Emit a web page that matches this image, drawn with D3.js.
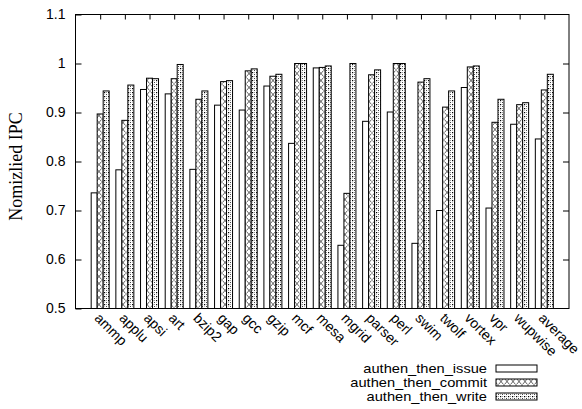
<!DOCTYPE html>
<html>
<head>
<meta charset="utf-8">
<script src="https://cdn.jsdelivr.net/npm/d3@7"></script>
<style>
  html, body { margin: 0; padding: 0; background: #fff; }
  svg { display: block; }
</style>
</head>
<body>
<svg id="chart" width="582" height="409"></svg>
<script>
// Benchmarks on the x axis
const categories = ["ammp", "applu", "apsi", "art", "bzip2", "gap", "gcc", "gzip", "mcf", "mesa",
  "mgrid", "parser", "perl", "swim", "twolf", "vortex", "vpr", "wupwise", "average"];

// Normalized IPC per configuration
const authenThenIssue  = [0.736, 0.783, 0.947, 0.938, 0.784, 0.915, 0.905, 0.954, 0.837, 0.991,
  0.629, 0.882, 0.901, 0.633, 0.700, 0.951, 0.705, 0.876, 0.846];
const authenThenCommit = [0.897, 0.884, 0.970, 0.969, 0.927, 0.963, 0.985, 0.974, 1.000, 0.992,
  0.735, 0.977, 1.000, 0.962, 0.911, 0.993, 0.880, 0.916, 0.946];
const authenThenWrite  = [0.944, 0.956, 0.969, 0.998, 0.944, 0.965, 0.989, 0.978, 1.000, 0.995,
  1.000, 0.987, 1.000, 0.969, 0.944, 0.995, 0.927, 0.920, 0.978];

const seriesNames = ["authen_then_issue", "authen_then_commit", "authen_then_write"];
const yTicks = [0.5, 0.6, 0.7, 0.8, 0.9, 1.0, 1.1];

const SANS = "'Liberation Sans', Arial, Helvetica, sans-serif";
const SERIF = "'Liberation Serif', 'Times New Roman', serif";

const series = [
  { name: seriesNames[0], values: authenThenIssue,  fill: "#fff" },
  { name: seriesNames[1], values: authenThenCommit, fill: "url(#cross)" },
  { name: seriesNames[2], values: authenThenWrite,  fill: "url(#dots)" }
];

const svg = d3.select("#chart");
const L = 75.5, R = 569, T = 14.5, B = 308.5;

// Fill patterns for the bars
const defs = svg.append("defs");
const cross = defs.append("pattern").attr("id", "cross")
  .attr("patternUnits", "userSpaceOnUse").attr("width", 6).attr("height", 7);
cross.append("rect").attr("width", 6).attr("height", 7).attr("fill", "#fff");
cross.append("path").attr("d", "M0.5,0.5 L5.5,6.5 M5.5,0.5 L0.5,6.5")
  .attr("stroke", "#222").attr("stroke-width", 0.7).attr("fill", "none");

const dots = defs.append("pattern").attr("id", "dots")
  .attr("patternUnits", "userSpaceOnUse").attr("width", 4).attr("height", 4);
dots.append("rect").attr("width", 4).attr("height", 4).attr("fill", "#fff");
dots.append("rect").attr("x", 0).attr("y", 0).attr("width", 1.2).attr("height", 1.2).attr("fill", "#000");
dots.append("rect").attr("x", 2).attr("y", 2).attr("width", 1).attr("height", 1).attr("fill", "#444");
dots.append("rect").attr("x", 2).attr("y", 0).attr("width", 1).attr("height", 1).attr("fill", "#999");
dots.append("rect").attr("x", 0).attr("y", 2).attr("width", 1).attr("height", 1).attr("fill", "#bbb");

// Scales: categories sit at integer positions, axis spans -1 .. n
const x = d3.scaleLinear().domain([-1, categories.length]).range([L, R]);
const y = d3.scaleLinear().domain([0.5, 1.1]).range([B, T]);
const barW = x(0.243) - x(0);

// Bars
series.forEach((s, si) => {
  svg.append("g").selectAll("rect").data(s.values).join("rect")
    .attr("x", (d, i) => x(i) + (si - 1.5) * barW)
    .attr("y", d => y(d))
    .attr("width", barW)
    .attr("height", d => y(0.5) - y(d))
    .attr("fill", s.fill)
    .attr("stroke", "#000")
    .attr("stroke-width", 1);
});

// Frame
svg.append("rect").attr("x", L).attr("y", T).attr("width", R - L).attr("height", B - T)
  .attr("fill", "none").attr("stroke", "#000").attr("stroke-width", 1);

// Left axis: ticks point inward, labels outside
const yAxisL = d3.axisLeft(y).tickValues(yTicks).tickSizeInner(-6).tickSizeOuter(0).tickPadding(10)
  .tickFormat(d => d3.format("")(+d.toFixed(1)));
const gL = svg.append("g").attr("transform", `translate(${L},0)`).call(yAxisL);
gL.select(".domain").remove();
gL.attr("font-family", null).attr("font-size", null);
gL.selectAll("text").style("font-family", SANS).style("font-size", "14px").attr("fill", "#000");

// Right axis mirror ticks
const gR = svg.append("g").attr("transform", `translate(${R},0)`)
  .call(d3.axisRight(y).tickValues(yTicks.slice(1, -1)).tickSizeInner(-6).tickSizeOuter(0).tickFormat(""));
gR.select(".domain").remove();

// Top mirror ticks at category positions
const gT = svg.append("g").attr("transform", `translate(0,${T})`)
  .call(d3.axisTop(x).tickValues(d3.range(categories.length)).tickSizeInner(-5).tickSizeOuter(0).tickFormat(""));
gT.select(".domain").remove();

// Category labels, rotated
svg.append("g").selectAll("text").data(categories).join("text")
  .attr("transform", (d, i) => `translate(${x(i) - 3},${B + 7}) rotate(45)`)
  .style("font-family", SANS).style("font-size", "14px")
  .attr("dy", "0.35em")
  .text(d => d);

// Y axis title
svg.append("text")
  .attr("transform", `translate(16,${(T + B) / 2 + 5}) rotate(-90)`)
  .attr("text-anchor", "middle")
  .attr("dy", "0.35em")
  .style("font-family", SERIF).style("font-size", "18px")
  .text("Nomizlied IPC");

// Legend: entries are set slightly wide, rows packed tight
const legend = svg.append("g");
series.forEach((s, i) => {
  const cy = 368.5 + i * 14;
  legend.append("text")
    .attr("transform", `translate(487,${cy}) scale(1.2,1)`)
    .attr("dy", "0.35em")
    .attr("text-anchor", "end").style("font-family", SANS).style("font-size", "12.2px").text(s.name);
  legend.append("rect").attr("x", 496).attr("y", cy - 3.5).attr("width", 41).attr("height", 7)
    .attr("fill", s.fill).attr("stroke", "#000").attr("stroke-width", 1);
});
</script>
</body>
</html>
